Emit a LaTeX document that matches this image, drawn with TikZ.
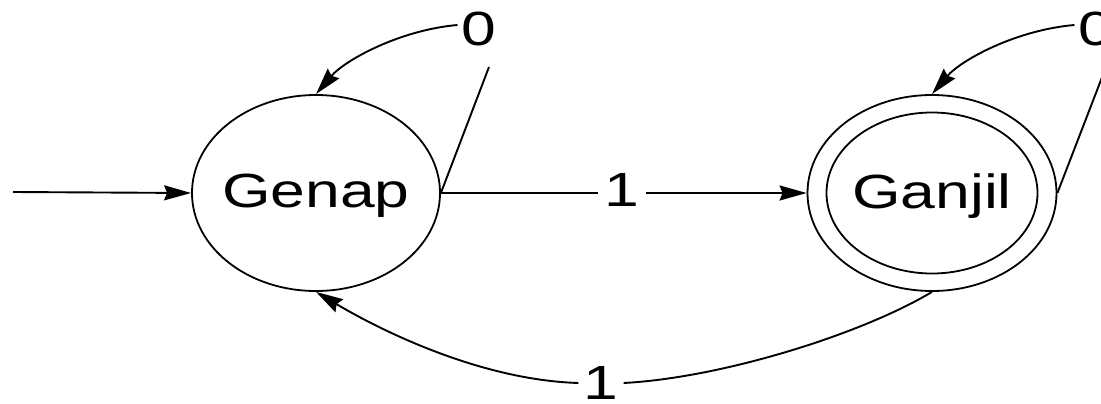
\documentclass[tikz,border=0pt]{standalone}
\usepackage{fontspec}
\usepackage{graphicx}
\setmainfont{Liberation Sans}
\usetikzlibrary{arrows.meta,shapes.geometric}
\tikzset{
  stateshape/.style={draw, ellipse, inner sep=0pt, line width=1.8pt},
  txt/.style={inner sep=0pt, font=\fontsize{48}{50}\selectfont},
  lab/.style={inner sep=5pt, font=\fontsize{48}{50}\selectfont},
  edge/.style={line width=1.9pt},
  arr/.style={edge, -{Stealth[length=27pt,width=15pt,inset=3pt]}}
}
\newcommand{\wide}[1]{\scalebox{1.3}[1]{#1}}
\begin{document}
\begin{tikzpicture}[x=1pt,y=-1pt]
\useasboundingbox (0,0) rectangle (1101,404);
% states
\node[stateshape, minimum width=248pt, minimum height=196pt] (genap) at (316,193) {};
\node[txt, anchor=base] (genaptxt) at (316,207) {\wide{Genap}};
\node[stateshape, minimum width=249pt, minimum height=196pt] (ganjil) at (932,193) {};
\node[stateshape, minimum width=211pt, minimum height=161pt] (ganjilin) at (932,193) {};
\node[txt, anchor=base] (ganjiltxt) at (932,208) {\wide{Ganjil}};
% labels
\node[lab, inner sep=4pt] (l0) at (479,29) {\wide{0}};
\node[lab, inner sep=4pt] (r0) at (1096,29) {\wide{0}};
\node[lab, inner sep=6pt] (m1) at (622,190) {\wide{1}};
\node[lab, inner sep=5pt] (b1) at (601,383) {\wide{1}};
\coordinate (start) at (13,192);
\coordinate (l0b) at (489,67);
\coordinate (r0b) at (1106,67);
% initial arrow
\draw[arr] (start) -- (genap.west);
% Genap -> Ganjil on 1
\draw[edge] (genap.east) -- (genap.east -| m1.west);
\draw[arr] (m1.east |- ganjil.west) -- (ganjil.west);
% Genap loop on 0
\draw[edge] (genap.east) -- (l0b);
\draw[arr] ([yshift=4pt]l0.west) .. controls (400,30) and (345,60) .. (genap.north);
% Ganjil loop on 0
\draw[edge] (ganjil.east) -- (r0b);
\draw[arr] ([yshift=4pt]r0.west) .. controls (1016,30) and (961,60) .. (ganjil.north);
% Ganjil -> Genap on 1
\draw[edge] (ganjil.south) .. controls (860,335) and (720,378) .. (b1.east);
\draw[arr] (b1.west) .. controls (480,380) and (380,330) .. (genap.south);
\end{tikzpicture}
\end{document}
